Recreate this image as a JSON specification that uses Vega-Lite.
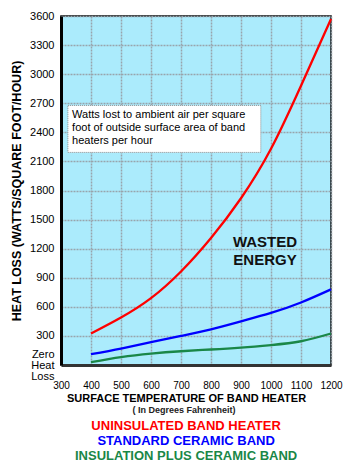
{
  "$schema": "https://vega.github.io/schema/vega-lite/v6.json",
  "width": 270,
  "height": 349,
  "autosize": {"type": "none"},
  "padding": {"left": 61, "top": 16, "right": 19, "bottom": 108},
  "background": "white",
  "config": {
    "font": "Liberation Sans",
    "view": {"fill": "#abebfc", "stroke": "black", "strokeWidth": 1.5},
    "axis": {"labelOverlap": false, "labelFlush": false}
  },
  "datasets": {
    "curves": [
      {"temp": 400, "loss": 325, "series": "UNINSULATED BAND HEATER"},
      {"temp": 500, "loss": 490, "series": "UNINSULATED BAND HEATER"},
      {"temp": 600, "loss": 690, "series": "UNINSULATED BAND HEATER"},
      {"temp": 700, "loss": 965, "series": "UNINSULATED BAND HEATER"},
      {"temp": 800, "loss": 1310, "series": "UNINSULATED BAND HEATER"},
      {"temp": 900, "loss": 1720, "series": "UNINSULATED BAND HEATER"},
      {"temp": 1000, "loss": 2230, "series": "UNINSULATED BAND HEATER"},
      {"temp": 1100, "loss": 2880, "series": "UNINSULATED BAND HEATER"},
      {"temp": 1200, "loss": 3570, "series": "UNINSULATED BAND HEATER"},
      {"temp": 400, "loss": 111, "series": "STANDARD CERAMIC BAND"},
      {"temp": 500, "loss": 170, "series": "STANDARD CERAMIC BAND"},
      {"temp": 600, "loss": 235, "series": "STANDARD CERAMIC BAND"},
      {"temp": 700, "loss": 300, "series": "STANDARD CERAMIC BAND"},
      {"temp": 800, "loss": 368, "series": "STANDARD CERAMIC BAND"},
      {"temp": 900, "loss": 450, "series": "STANDARD CERAMIC BAND"},
      {"temp": 1000, "loss": 537, "series": "STANDARD CERAMIC BAND"},
      {"temp": 1100, "loss": 645, "series": "STANDARD CERAMIC BAND"},
      {"temp": 1200, "loss": 780, "series": "STANDARD CERAMIC BAND"},
      {"temp": 400, "loss": 29, "series": "INSULATION PLUS CERAMIC BAND"},
      {"temp": 500, "loss": 82, "series": "INSULATION PLUS CERAMIC BAND"},
      {"temp": 600, "loss": 118, "series": "INSULATION PLUS CERAMIC BAND"},
      {"temp": 700, "loss": 142, "series": "INSULATION PLUS CERAMIC BAND"},
      {"temp": 800, "loss": 160, "series": "INSULATION PLUS CERAMIC BAND"},
      {"temp": 900, "loss": 180, "series": "INSULATION PLUS CERAMIC BAND"},
      {"temp": 1000, "loss": 206, "series": "INSULATION PLUS CERAMIC BAND"},
      {"temp": 1100, "loss": 245, "series": "INSULATION PLUS CERAMIC BAND"},
      {"temp": 1200, "loss": 325, "series": "INSULATION PLUS CERAMIC BAND"}
    ],
    "box": [{"x1": 323, "x2": 966, "y1": 2193, "y2": 2678}],
    "note": [
      {"x": 337, "y": 2575, "text": "Watts lost to ambient air per square"},
      {"x": 337, "y": 2441, "text": "foot of outside surface area of band"},
      {"x": 337, "y": 2307, "text": "heaters per hour"}
    ],
    "wasted": [
      {"x": 980, "y": 1266, "text": "WASTED"},
      {"x": 980, "y": 1080, "text": "ENERGY"}
    ],
    "sub": [{"x": 710, "y": -466, "text": "( In Degrees Fahrenheit)"}],
    "keys": [
      {"x": 717, "y": -631, "series": "UNINSULATED BAND HEATER"},
      {"x": 717, "y": -785, "series": "STANDARD CERAMIC BAND"},
      {"x": 717, "y": -940, "series": "INSULATION PLUS CERAMIC BAND"}
    ]
  },
  "layer": [
    {
      "data": {"name": "box"},
      "mark": {"type": "rect", "fill": "white", "stroke": "#8a8a8a", "strokeWidth": 1, "strokeDash": [1, 1]},
      "encoding": {
        "x": {"field": "x1", "type": "quantitative", "scale": {"domain": [300, 1200], "nice": false, "zero": false},
          "axis": {
            "values": [300, 400, 500, 600, 700, 800, 900, 1000, 1100, 1200],
            "tickCount": 30,
            "format": "d",
            "title": "SURFACE TEMPERATURE OF BAND HEATER",
            "titleFontSize": 11, "titleFontWeight": "bold", "titleColor": "black",
            "titleX": 125, "titlePadding": 2,
            "labelFontSize": 10, "labelColor": "black", "labelPadding": 15,
            "labelFlush": false, "labelOverlap": false,
            "ticks": false, "domainColor": "#333", "domainWidth": 3,
            "grid": true, "gridColor": "#98a4ac", "gridWidth": 1.5, "gridDash": [2, 1]
          }},
        "x2": {"field": "x2"},
        "y": {"field": "y1", "type": "quantitative", "scale": {"domain": [0, 3600], "nice": false},
          "axis": {
            "values": [0, 300, 600, 900, 1200, 1500, 1800, 2100, 2400, 2700, 3000, 3300, 3600],
            "tickCount": 30,
            "labelExpr": "datum.value == 0 ? ['Zero', 'Heat', 'Loss'] : datum.label",
            "labelOffset": {"condition": {"test": "datum.value == 0", "value": -11}, "value": 0},
            "format": "d",
            "title": "HEAT LOSS (WATTS/SQUARE FOOT/HOUR)",
            "titleFontSize": 12.5, "titleFontWeight": "bold", "titleColor": "black", "titlePadding": 6,
            "labelFontSize": 11, "labelColor": "black", "labelPadding": 7, "labelLineHeight": 11,
            "labelFlush": false, "labelOverlap": false,
            "ticks": false, "domainColor": "black", "domainWidth": 3,
            "grid": true, "gridColor": "#98a4ac", "gridWidth": 1.5, "gridDash": [2, 1]
          }},
        "y2": {"field": "y2"}
      }
    },
    {
      "data": {"name": "curves"},
      "mark": {"type": "line", "interpolate": "natural", "strokeWidth": 2.3},
      "encoding": {
        "x": {"field": "temp", "type": "quantitative"},
        "y": {"field": "loss", "type": "quantitative"},
        "color": {"field": "series", "type": "nominal",
          "scale": {"domain": ["UNINSULATED BAND HEATER", "STANDARD CERAMIC BAND", "INSULATION PLUS CERAMIC BAND"],
                    "range": ["#ff0000", "#0000ff", "#1a8747"]},
          "legend": null}
      }
    },
    {
      "data": {"name": "note"},
      "mark": {"type": "text", "align": "left", "baseline": "middle", "fontSize": 11, "color": "black"},
      "encoding": {
        "x": {"field": "x", "type": "quantitative"},
        "y": {"field": "y", "type": "quantitative"},
        "text": {"field": "text"}
      }
    },
    {
      "data": {"name": "wasted"},
      "mark": {"type": "text", "align": "center", "baseline": "middle", "fontSize": 15, "fontWeight": "bold", "color": "#111"},
      "encoding": {
        "x": {"field": "x", "type": "quantitative"},
        "y": {"field": "y", "type": "quantitative"},
        "text": {"field": "text"}
      }
    },
    {
      "data": {"name": "sub"},
      "mark": {"type": "text", "align": "center", "baseline": "middle", "fontSize": 9, "fontWeight": "bold", "color": "#222"},
      "encoding": {
        "x": {"field": "x", "type": "quantitative"},
        "y": {"field": "y", "type": "quantitative"},
        "text": {"field": "text"}
      }
    },
    {
      "data": {"name": "keys"},
      "mark": {"type": "text", "align": "center", "baseline": "middle", "fontSize": 13, "fontWeight": "bold"},
      "encoding": {
        "x": {"field": "x", "type": "quantitative"},
        "y": {"field": "y", "type": "quantitative"},
        "text": {"field": "series"},
        "color": {"field": "series", "type": "nominal", "legend": null}
      }
    }
  ]
}
